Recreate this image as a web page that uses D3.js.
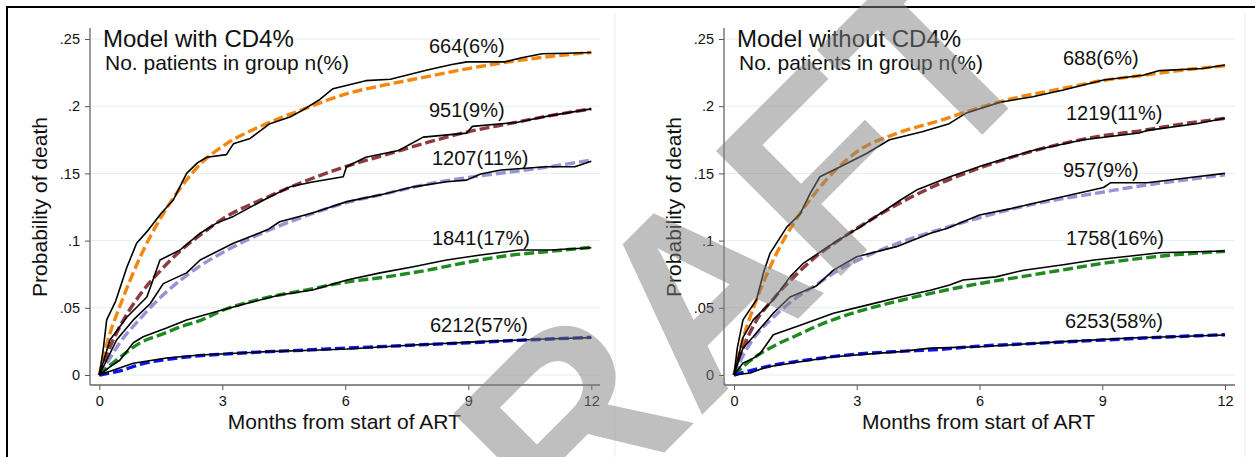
<!DOCTYPE html>
<html><head><meta charset="utf-8">
<script src="https://cdn.jsdelivr.net/npm/d3@7/dist/d3.min.js"></script>
<style>
body{margin:0;background:#fff}
svg{display:block}
text{font-family:"Liberation Sans",Arial,Helvetica,sans-serif;fill:#111}
</style></head>
<body><svg id="chart" width="1255" height="457"></svg>
<script>
// ---------------- DATA ----------------
const monthTicks = [0, 3, 6, 9, 12];
const probTicks = [0, 0.05, 0.1, 0.15, 0.2, 0.25];
const probTickLabels = ["0", ".05", ".1", ".15", ".2", ".25"];
const panelTitles = ["Model with CD4%", "Model without CD4%"];
const subtitleText = "No. patients in group n(%)";
const xTitle = "Months from start of ART";
const yTitle = "Probability of death";
const watermarkText = "DRAFT";

// model (predicted) curves: common month grid
const modelMonths = [0, 0.25, 0.5, 1, 1.5, 2, 2.5, 3, 4, 5, 6, 7, 8, 9, 10, 11, 12];

// Panel 1: Model with CD4%
const p1GroupLabels = ["664(6%)", "951(9%)", "1207(11%)", "1841(17%)", "6212(57%)"];
const p1Model = [
  [0, 0.030, 0.051, 0.088, 0.117, 0.140, 0.158, 0.170, 0.186, 0.198, 0.209, 0.216, 0.222, 0.228, 0.233, 0.237, 0.240],
  [0, 0.020, 0.036, 0.060, 0.078, 0.093, 0.105, 0.116, 0.131, 0.144, 0.155, 0.164, 0.173, 0.181, 0.187, 0.193, 0.198],
  [0, 0.012, 0.024, 0.042, 0.058, 0.071, 0.082, 0.091, 0.106, 0.118, 0.128, 0.135, 0.142, 0.147, 0.151, 0.155, 0.160],
  [0, 0.007, 0.013, 0.024, 0.030, 0.036, 0.041, 0.048, 0.057, 0.063, 0.069, 0.073, 0.078, 0.084, 0.089, 0.092, 0.095],
  [0, 0.0015, 0.003, 0.008, 0.011, 0.013, 0.0145, 0.0155, 0.0172, 0.0185, 0.020, 0.0213, 0.0227, 0.024, 0.0255, 0.0268, 0.028]
];
// Panel 1 observed (Kaplan-Meier) curves: [month, probability]
const p1ObsOrange = [[0,0],[0.1,0.02],[0.18,0.041],[0.4,0.055],[0.67,0.08],[0.91,0.098],[1.2,0.108],[1.5,0.12],[1.8,0.13],[1.9,0.136],[2.13,0.15],[2.4,0.158],[2.62,0.162],[3.1,0.164],[3.27,0.172],[3.68,0.176],[4.16,0.187],[4.65,0.192],[4.9,0.196],[5.38,0.205],[5.7,0.213],[6.5,0.219],[7.1,0.22],[8.0,0.227],[8.6,0.231],[8.97,0.233],[9.9,0.233],[10.3,0.236],[10.8,0.239],[11.4,0.2394],[12,0.24]];
const p1ObsMaroon = [[0,0],[0.26,0.026],[0.67,0.043],[1.16,0.058],[1.3,0.07],[1.48,0.0856],[1.97,0.093],[2.46,0.1055],[2.86,0.113],[3.27,0.118],[4.0,0.13],[4.65,0.14],[5.2,0.1436],[5.95,0.1475],[6.03,0.155],[6.5,0.162],[7.3,0.167],[7.9,0.177],[8.96,0.18],[9.1,0.185],[10.2,0.188],[11.0,0.193],[12,0.198]];
const p1ObsLavender = [[0,0],[0.26,0.016],[0.42,0.026],[0.83,0.041],[1.24,0.053],[1.56,0.068],[2.13,0.076],[2.46,0.0856],[3.27,0.098],[4.1,0.108],[4.4,0.114],[5.2,0.1205],[6.04,0.129],[6.85,0.134],[7.66,0.14],[8.47,0.1438],[8.96,0.145],[9.3,0.1496],[9.8,0.1525],[10.9,0.155],[11.6,0.155],[12,0.159]];
const p1ObsGreen = [[0,0],[0.26,0.006],[0.5,0.011],[0.83,0.024],[1.07,0.0285],[1.64,0.035],[2.13,0.041],[2.95,0.048],[3.75,0.0545],[4.4,0.0595],[5.2,0.0632],[6.04,0.0707],[6.85,0.076],[7.66,0.0806],[8.47,0.0856],[9.3,0.0893],[10.25,0.093],[11.0,0.093],[12,0.0947]];
const p1ObsBlue = [[0,0],[0.83,0.0087],[1.64,0.0126],[2.46,0.0149],[4.1,0.0174],[5.38,0.0186],[6.04,0.0193],[7.66,0.0223],[9.3,0.0248],[10.9,0.0268],[12,0.0278]];

// Panel 2: Model without CD4%
const p2GroupLabels = ["688(6%)", "1219(11%)", "957(9%)", "1758(16%)", "6253(58%)"];
const p2Model = [
  [0, 0.030, 0.052, 0.088, 0.115, 0.136, 0.153, 0.166, 0.180, 0.189, 0.199, 0.207, 0.213, 0.219, 0.223, 0.227, 0.230],
  [0, 0.022, 0.038, 0.058, 0.074, 0.088, 0.099, 0.109, 0.127, 0.142, 0.154, 0.164, 0.172, 0.178, 0.182, 0.187, 0.191],
  [0, 0.016, 0.028, 0.044, 0.057, 0.067, 0.077, 0.085, 0.098, 0.108, 0.117, 0.125, 0.131, 0.136, 0.141, 0.145, 0.149],
  [0, 0.007, 0.013, 0.022, 0.029, 0.036, 0.042, 0.047, 0.055, 0.062, 0.068, 0.073, 0.078, 0.083, 0.087, 0.090, 0.092],
  [0, 0.002, 0.004, 0.0075, 0.010, 0.012, 0.014, 0.0155, 0.0175, 0.019, 0.0215, 0.023, 0.0245, 0.026, 0.0275, 0.0288, 0.030]
];
const p2ObsOrange = [[0,0],[0.08,0.02],[0.22,0.041],[0.55,0.056],[0.72,0.076],[0.88,0.0905],[1.29,0.11],[1.62,0.12],[1.86,0.135],[2.1,0.1475],[2.6,0.155],[3.25,0.165],[3.8,0.175],[4.6,0.181],[5.26,0.187],[5.68,0.195],[6.5,0.203],[7.3,0.207],[8.05,0.212],[9.03,0.2195],[10.0,0.223],[10.4,0.2265],[11.46,0.228],[12,0.2307]];
const p2ObsMaroon = [[0,0],[0.22,0.028],[0.47,0.041],[0.96,0.056],[1.37,0.073],[1.69,0.083],[2.43,0.098],[3.08,0.11],[4.06,0.13],[4.46,0.1376],[5.28,0.1475],[6.09,0.156],[7.3,0.167],[8.54,0.175],[9.9,0.18],[10.1,0.182],[11.3,0.187],[12,0.191]];
const p2ObsLavender = [[0,0],[0.22,0.02],[0.47,0.0285],[0.96,0.046],[1.37,0.058],[2.0,0.066],[2.43,0.078],[3.0,0.088],[3.97,0.0955],[4.8,0.1055],[5.2,0.109],[6.0,0.119],[6.8,0.124],[7.65,0.13],[9.03,0.1395],[9.2,0.143],[10.1,0.143],[11.3,0.1475],[12,0.15]];
const p2ObsGreen = [[0,0],[0.22,0.009],[0.45,0.012],[0.64,0.016],[0.96,0.03],[1.62,0.037],[2.43,0.046],[3.25,0.052],[4.06,0.058],[4.8,0.063],[5.27,0.067],[5.6,0.0707],[6.4,0.073],[7.08,0.078],[8.05,0.082],[8.8,0.0856],[9.7,0.0885],[10.4,0.091],[12,0.0923]];
const p2ObsBlue = [[0,0],[0.4,0.0015],[0.8,0.006],[1.62,0.0099],[2.43,0.0136],[4.06,0.0174],[4.8,0.02],[6.0,0.021],[8.05,0.0248],[9.7,0.0275],[12,0.0298]];

const p1Observed = [p1ObsOrange, p1ObsMaroon, p1ObsLavender, p1ObsGreen, p1ObsBlue];
const p2Observed = [p2ObsOrange, p2ObsMaroon, p2ObsLavender, p2ObsGreen, p2ObsBlue];

// ---------------- STYLE / LAYOUT ----------------
const groupColors = ["#f5870f", "#8e3b3f", "#9893d6", "#1f8a1f", "#0a14f0"];
const FONT = '"Liberation Sans",Arial,Helvetica,sans-serif';

const panels = [
  { title: panelTitles[0], labels: p1GroupLabels, model: p1Model, obs: p1Observed,
    axisX: 90, xr: [99.3, 591.3], xEnd: 600, border: 615, titleX: 103, yTitleX: 47,
    labelPos: [[429, 53], [429, 117], [432, 165], [432, 245], [430, 332]] },
  { title: panelTitles[1], labels: p2GroupLabels, model: p2Model, obs: p2Observed,
    axisX: 724, xr: [734, 1225], xEnd: 1235, border: 1245, titleX: 737, yTitleX: 681,
    labelPos: [[1063, 65], [1066, 120], [1063, 177], [1066, 245], [1065, 328]] }
];

const svg = d3.select("#chart");
svg.append("rect").attr("width", 1255).attr("height", 457).attr("fill", "#fff");

const yTop = 28, yBottom = 385;

panels.forEach(p => {
  const x = d3.scaleLinear().domain([0, 12]).range(p.xr);
  const y = d3.scaleLinear().domain([0, 0.25]).range([375, 39]);
  const g = svg.append("g");

  // faint panel border
  g.append("line").attr("x1", p.border).attr("x2", p.border).attr("y1", 13).attr("y2", 457)
    .attr("stroke", "#e9eeee").attr("stroke-width", 1);

  // grid
  g.append("g").selectAll("line").data(probTicks).join("line")
    .attr("x1", p.axisX).attr("x2", p.xEnd)
    .attr("y1", d => y(d)).attr("y2", d => y(d))
    .attr("stroke", "#e6eeee").attr("stroke-width", 1);

  // y axis
  const yAxis = d3.axisLeft(y).tickValues(probTicks)
    .tickFormat((d, i) => probTickLabels[i]).tickSize(5).tickPadding(5).tickSizeOuter(0);
  const ya = g.append("g").attr("transform", `translate(${p.axisX},0)`).call(yAxis);
  ya.select(".domain").remove();
  ya.selectAll("line").attr("stroke", "#555");
  ya.selectAll("text").style("font-family", FONT).style("font-size", "14.5px").attr("fill", "#222");
  g.append("line").attr("x1", p.axisX).attr("x2", p.axisX).attr("y1", yTop).attr("y2", yBottom)
    .attr("stroke", "#666").attr("stroke-width", 1.3);

  // x axis
  const xAxis = d3.axisBottom(x).tickValues(monthTicks).tickFormat(d3.format("d"))
    .tickSize(5).tickPadding(6).tickSizeOuter(0);
  const xa = g.append("g").attr("transform", `translate(0,${yBottom})`).call(xAxis);
  xa.select(".domain").remove();
  xa.selectAll("line").attr("stroke", "#555");
  xa.selectAll("text").style("font-family", FONT).style("font-size", "14.5px").attr("fill", "#222");
  g.append("line").attr("x1", p.axisX).attr("x2", p.xEnd).attr("y1", yBottom).attr("y2", yBottom)
    .attr("stroke", "#666").attr("stroke-width", 1.3);

  // axis titles
  g.append("text").attr("x", (p.xr[0] + p.xr[1]) / 2 - 1).attr("y", 429)
    .attr("text-anchor", "middle").style("font-size", "21px").text(xTitle);
  g.append("text").attr("transform", `translate(${p.yTitleX},207) rotate(-90)`)
    .attr("text-anchor", "middle").style("font-size", "21px").text(yTitle);

  // model curves (dashed)
  const modelLine = d3.line().x((d, i) => x(modelMonths[i])).y(d => y(d)).curve(d3.curveMonotoneX);
  p.model.forEach((vals, k) => {
    g.append("path").attr("d", modelLine(vals)).attr("fill", "none")
      .attr("stroke", groupColors[k]).attr("stroke-width", 3.4)
      .attr("stroke-dasharray", "10,4");
  });
  // observed curves (black)
  const obsLine = d3.line().x(d => x(d[0])).y(d => y(d[1]));
  p.obs.forEach(vals => {
    g.append("path").attr("d", obsLine(vals)).attr("fill", "none")
      .attr("stroke", "#000").attr("stroke-width", 1.6).attr("stroke-linejoin", "round");
  });

  // group labels
  p.labels.forEach((t, k) => {
    g.append("text").attr("x", p.labelPos[k][0]).attr("y", p.labelPos[k][1])
      .style("font-size", "20px").text(t);
  });

  // titles
  g.append("text").attr("x", p.titleX).attr("y", 47).style("font-size", "24px").text(p.title);
  g.append("text").attr("x", p.titleX + 2).attr("y", 70).style("font-size", "21px").text(subtitleText);
});

// outer frame
svg.append("line").attr("x1", 6).attr("x2", 1255).attr("y1", 7).attr("y2", 7).attr("stroke", "#000").attr("stroke-width", 2);
svg.append("line").attr("x1", 7).attr("x2", 7).attr("y1", 6).attr("y2", 457).attr("stroke", "#000").attr("stroke-width", 2);

// watermark
svg.append("text").attr("transform", "translate(743,374) rotate(-45)")
  .attr("text-anchor", "middle")
  .style("font-family", FONT).style("font-weight", "bold").style("font-size", "257px")
  .style("fill", "#808080").style("fill-opacity", 0.5)
  .text(watermarkText);
</script>
</body></html>
